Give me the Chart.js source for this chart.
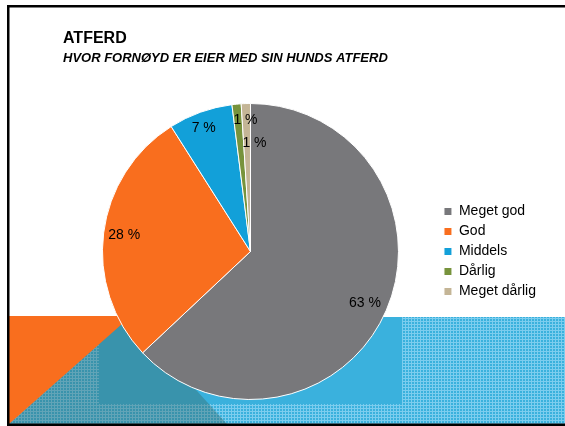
<!DOCTYPE html>
<html>
<head>
<meta charset="utf-8">
<script src="https://cdn.jsdelivr.net/npm/chart.js@4"></script>
<style>
  html, body { margin: 0; padding: 0; background: #fff; }
  #wrap { position: relative; width: 565px; height: 426px; }
</style>
</head>
<body>
<div id="wrap"><canvas id="atferdChart"></canvas></div>
<script>
const categories = ["Meget god", "God", "Middels", "Dårlig", "Meget dårlig"];
const shares = [63, 28, 7, 1, 1];
const sliceColors = ["#78787b", "#f96e1e", "#12a0d9", "#77933c", "#c4b596"];
const chartTitle = "ATFERD";
const chartSubtitle = "HVOR FORNØYD ER EIER MED SIN HUNDS ATFERD";

// where each percent label sits: part of the radius, and a small turn in degrees
const labelRadius = [0.85, 0.86, 0.89, 0.885, 0.73];
const labelTurn = [1, 0, -1, 3.2, 3.9];

Chart.defaults.font.family = "'Liberation Sans', Arial, sans-serif";

function makeDots(base, light) {
    const c = document.createElement("canvas");
    c.width = 3;
    c.height = 3;
    const g = c.getContext("2d");
    g.fillStyle = base;
    g.fillRect(0, 0, 3, 3);
    g.fillStyle = light;
    g.fillRect(0, 0, 3, 1);
    g.fillRect(0, 0, 1, 3);
    return c;
}

// slide background: frame, orange and blue shapes at the bottom
const slideBackground = {
    id: "slideBackground",
    beforeDraw(chart) {
        const ctx = chart.ctx;
        ctx.save();
        ctx.fillStyle = "#fff";
        ctx.fillRect(0, 0, chart.width, chart.height);

        ctx.fillStyle = "#3ab1dd";
        ctx.fillRect(9, 317, 556, 107);
        ctx.fillStyle = ctx.createPattern(makeDots("#3ab1dd", "#7ccdee"), "repeat");
        ctx.fillRect(402, 317, 163, 107);
        ctx.fillRect(9, 404, 393, 20);
        ctx.fillRect(9, 345, 90, 79);

        ctx.fillStyle = "rgba(58,102,101,0.4)";
        ctx.beginPath();
        ctx.moveTo(9, 424);
        ctx.lineTo(129, 316);
        ctx.lineTo(227, 424);
        ctx.closePath();
        ctx.fill();

        ctx.fillStyle = "#f96e1e";
        ctx.beginPath();
        ctx.moveTo(9, 316);
        ctx.lineTo(131, 316);
        ctx.lineTo(9, 424);
        ctx.closePath();
        ctx.fill();

        ctx.fillStyle = "#000";
        ctx.fillRect(7, 5, 558, 2.5);
        ctx.fillRect(7, 5, 2.5, 421);
        ctx.fillRect(7, 423.5, 558, 2.5);
        ctx.restore();
    }
};

const percentLabels = {
    id: "percentLabels",
    afterDatasetsDraw(chart) {
        const ctx = chart.ctx;
        const meta = chart.getDatasetMeta(0);
        ctx.save();
        ctx.font = "14px 'Liberation Sans', Arial, sans-serif";
        ctx.fillStyle = "#000";
        ctx.textAlign = "center";
        ctx.textBaseline = "middle";
        meta.data.forEach((arc, i) => {
            const p = arc.getProps(["x", "y", "startAngle", "endAngle", "outerRadius"], true);
            const a = (p.startAngle + p.endAngle) / 2 + labelTurn[i] * Math.PI / 180;
            const r = p.outerRadius * labelRadius[i];
            ctx.fillText(shares[i] + " %", p.x + Math.cos(a) * r, p.y + Math.sin(a) * r);
        });
        ctx.restore();
    }
};

new Chart(document.getElementById("atferdChart"), {
    type: "pie",
    data: {
        labels: categories,
        datasets: [{
            data: shares,
            backgroundColor: sliceColors,
            borderColor: "#fff",
            borderWidth: 1,
            hoverOffset: 0
        }]
    },
    options: {
        responsive: true,
        maintainAspectRatio: false,
        animation: false,
        layout: {
            padding: { top: 28.5, left: 63, right: 19, bottom: 26 }
        },
        plugins: {
            title: {
                display: true,
                text: chartTitle,
                align: "start",
                color: "#000",
                font: { size: 16, weight: "bold", lineHeight: 1.2 },
                padding: { top: 0, bottom: 0 }
            },
            subtitle: {
                display: true,
                text: chartSubtitle,
                align: "start",
                color: "#000",
                font: { size: 13, weight: "bold", style: "italic", lineHeight: 1.2 },
                padding: { top: 2.5, bottom: 37.2 }
            },
            legend: {
                position: "right",
                fullSize: false,
                labels: {
                    boxWidth: 8,
                    boxHeight: 8,
                    padding: 6,
                    color: "#000",
                    font: { size: 14 }
                }
            },
            tooltip: { enabled: false }
        }
    },
    plugins: [slideBackground, percentLabels]
});
</script>
</body>
</html>
